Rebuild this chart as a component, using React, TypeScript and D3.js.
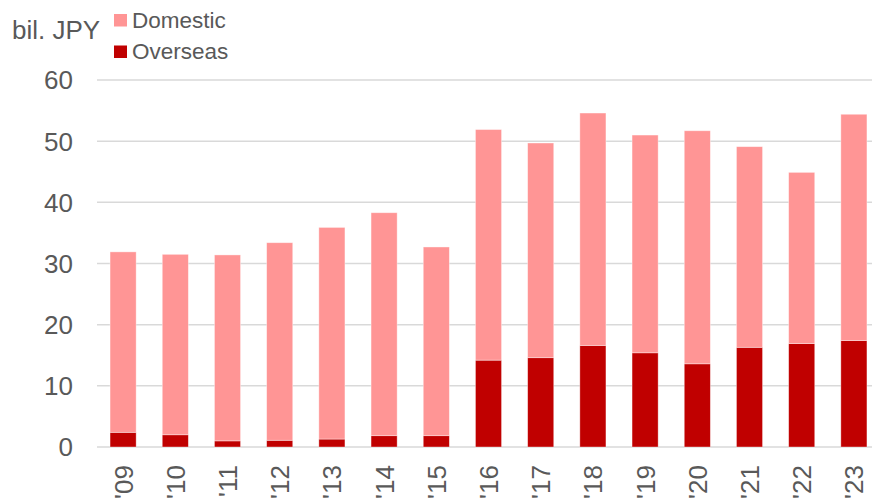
import { useEffect, useRef } from 'react';
import * as d3 from 'd3';

const years = ["'09", "'10", "'11", "'12", "'13", "'14", "'15", "'16", "'17", "'18", "'19", "'20", "'21", "'22", "'23"];
const overseas = [2.4, 2.0, 1.0, 1.1, 1.3, 1.85, 1.85, 14.2, 14.6, 16.6, 15.4, 13.6, 16.3, 16.9, 17.4];
const domestic = [29.5, 29.5, 30.4, 32.3, 34.6, 36.45, 30.85, 37.7, 35.1, 38.0, 35.6, 38.1, 32.8, 28.0, 37.0];
const yTicks = [0, 10, 20, 30, 40, 50, 60];
const seriesNames = ['Domestic', 'Overseas'];
const colors: Record<string, string> = { Domestic: '#ff9595', Overseas: '#c00000' };

const W = 872;
const H = 498;
const FONT = '"Liberation Sans", Arial, sans-serif';

export default function App() {
	const ref = useRef<SVGSVGElement>(null);

	useEffect(() => {
		const svg = d3.select(ref.current);
		svg.selectAll('*').remove();

		const x = d3.scaleBand<string>().domain(years).range([97, 880]).paddingInner(0.5).paddingOuter(0.25);
		const y = d3.scaleLinear().domain([0, 60]).range([447, 80]);

		// gridlines
		svg.append('g')
			.selectAll('line')
			.data(yTicks)
			.join('line')
			.attr('x1', 97)
			.attr('x2', W)
			.attr('y1', (d) => y(d))
			.attr('y2', (d) => y(d))
			.attr('stroke', '#d9d9d9')
			.attr('stroke-width', 1.5);

		// y tick labels
		svg.append('g')
			.selectAll('text')
			.data(yTicks)
			.join('text')
			.attr('x', 73)
			.attr('y', (d) => y(d))
			.attr('dy', '0.36em')
			.attr('text-anchor', 'end')
			.attr('font-family', FONT)
			.attr('font-size', 26)
			.attr('fill', '#595959')
			.text((d) => d);

		const rows = years.map((yr, i) => ({ year: yr, Overseas: overseas[i], Domestic: domestic[i] }));
		const stacked = d3.stack<any>().keys(['Overseas', 'Domestic'])(rows);

		svg.append('g')
			.selectAll('g')
			.data(stacked)
			.join('g')
			.attr('fill', (s) => colors[s.key])
			.selectAll('rect')
			.data((s) => s)
			.join('rect')
			.attr('x', (d: any) => x(d.data.year)!)
			.attr('width', x.bandwidth())
			.attr('y', (d) => y(d[1]))
			.attr('height', (d) => y(d[0]) - y(d[1]))
			.attr('stroke', '#fff')
			.attr('stroke-opacity', 0.5)
			.attr('stroke-width', 0.75);

		// x labels rotated
		svg.append('g')
			.selectAll('text')
			.data(years)
			.join('text')
			.attr('transform', (d) => `translate(${x(d)! + x.bandwidth() / 2 + 9.5},465) rotate(-90)`)
			.attr('text-anchor', 'end')
			.attr('font-family', FONT)
			.attr('font-size', 26)
			.attr('fill', '#595959')
			.text((d) => d);

		// unit label
		svg.append('text')
			.attr('x', 12)
			.attr('y', 39)
			.attr('font-family', FONT)
			.attr('font-size', 26)
			.attr('fill', '#595959')
			.text('bil. JPY');

		// legend
		const lg = svg.append('g')
			.selectAll('g')
			.data(seriesNames)
			.join('g')
			.attr('transform', (_d, i) => `translate(114,${14 + i * 31.5})`);
		lg.append('rect').attr('width', 13).attr('height', 12.5).attr('fill', (d) => colors[d]);
		lg.append('text')
			.attr('x', 18)
			.attr('y', 13.5)
			.attr('font-family', FONT)
			.attr('font-size', 22.5)
			.attr('fill', '#595959')
			.text((d) => d);
	}, []);

	return (
		<svg
			ref={ref}
			width={W}
			height={H}
			style={{ position: 'absolute', left: 0, top: 0, background: '#fff' }}
		/>
	);
}
